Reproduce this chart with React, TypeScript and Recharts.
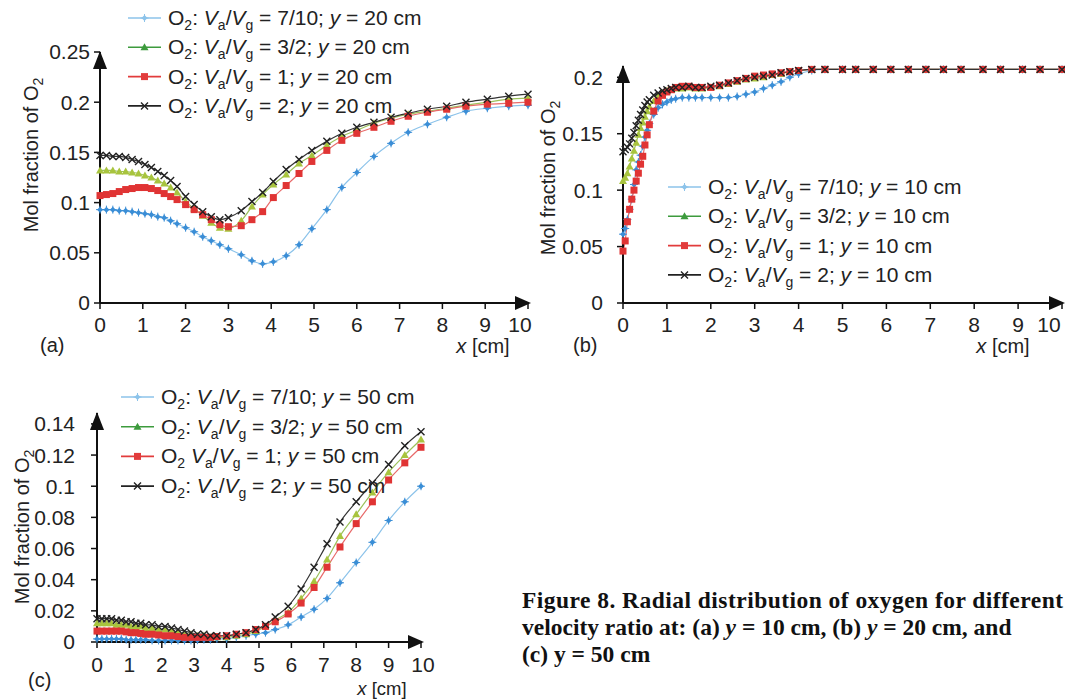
import React from 'react';
import { LineChart, Line, XAxis, YAxis, ReferenceDot } from 'recharts';

const FONT = '"Liberation Sans", Arial, Helvetica, sans-serif';
const SERIF = '"Liberation Serif", "Times New Roman", serif';

// ---------- data ----------
const xTicks = [0, 1, 2, 3, 4, 5, 6, 7, 8, 9, 10];
const yTicksA = [0, 0.05, 0.1, 0.15, 0.2, 0.25];
const yTicksB = [0, 0.05, 0.1, 0.15, 0.2];
const yTicksC = [0, 0.02, 0.04, 0.06, 0.08, 0.1, 0.12, 0.14];

const ratios = ['7/10', '3/2', '1', '2'];

// Panel (a): y = 20 cm
const xA = [0, 0.15, 0.3, 0.45, 0.6, 0.75, 0.9, 1.05, 1.2, 1.35, 1.5, 1.65, 1.8, 2.0, 2.2, 2.4, 2.6, 2.8, 3.0, 3.3, 3.55, 3.8, 4.05, 4.35, 4.65, 4.95, 5.3, 5.65, 6.0, 6.4, 6.8, 7.2, 7.65, 8.1, 8.55, 9.05, 9.55, 10];
const blueA = [0.093, 0.093, 0.093, 0.092, 0.092, 0.091, 0.090, 0.089, 0.088, 0.086, 0.085, 0.082, 0.079, 0.075, 0.071, 0.066, 0.062, 0.058, 0.054, 0.048, 0.042, 0.039, 0.041, 0.047, 0.058, 0.074, 0.093, 0.115, 0.130, 0.146, 0.159, 0.170, 0.178, 0.185, 0.191, 0.194, 0.196, 0.197];
const greenA = [0.132, 0.132, 0.132, 0.131, 0.131, 0.130, 0.129, 0.127, 0.125, 0.122, 0.119, 0.115, 0.110, 0.101, 0.094, 0.087, 0.080, 0.075, 0.074, 0.082, 0.096, 0.108, 0.118, 0.128, 0.139, 0.147, 0.157, 0.166, 0.172, 0.179, 0.184, 0.188, 0.191, 0.194, 0.197, 0.200, 0.203, 0.204];
const redA = [0.107, 0.108, 0.109, 0.111, 0.113, 0.114, 0.115, 0.115, 0.114, 0.112, 0.109, 0.106, 0.103, 0.098, 0.093, 0.088, 0.083, 0.078, 0.076, 0.077, 0.083, 0.091, 0.105, 0.117, 0.129, 0.141, 0.152, 0.162, 0.169, 0.175, 0.181, 0.186, 0.190, 0.193, 0.196, 0.198, 0.199, 0.200];
const blackA = [0.147, 0.147, 0.146, 0.146, 0.145, 0.143, 0.141, 0.138, 0.135, 0.131, 0.127, 0.122, 0.116, 0.106, 0.098, 0.091, 0.086, 0.083, 0.085, 0.092, 0.101, 0.110, 0.121, 0.133, 0.143, 0.152, 0.161, 0.169, 0.175, 0.180, 0.185, 0.189, 0.193, 0.196, 0.200, 0.203, 0.206, 0.208];

// Panel (b): y = 10 cm
const xB = [0, 0.05, 0.1, 0.15, 0.2, 0.25, 0.3, 0.35, 0.4, 0.45, 0.5, 0.55, 0.6, 0.7, 0.8, 0.9, 1.0, 1.1, 1.2, 1.35, 1.5, 1.65, 1.8, 2.0, 2.2, 2.4, 2.6, 2.8, 3.0, 3.2, 3.4, 3.6, 3.8, 4.0, 4.3, 4.6, 5.0, 5.3, 5.7, 6.1, 6.5, 6.9, 7.3, 7.7, 8.2, 8.6, 9.1, 9.5, 10];
const blueB = [0.061, 0.066, 0.074, 0.083, 0.092, 0.105, 0.118, 0.125, 0.131, 0.139, 0.147, 0.153, 0.159, 0.167, 0.173, 0.176, 0.178, 0.180, 0.181, 0.182, 0.182, 0.182, 0.182, 0.182, 0.182, 0.182, 0.183, 0.185, 0.187, 0.190, 0.193, 0.196, 0.200, 0.203, 0.206, 0.207, 0.207, 0.207, 0.207, 0.207, 0.207, 0.207, 0.207, 0.207, 0.207, 0.207, 0.207, 0.207, 0.207];
const greenB = [0.108, 0.111, 0.115, 0.121, 0.128, 0.135, 0.142, 0.149, 0.155, 0.160, 0.165, 0.170, 0.174, 0.179, 0.183, 0.186, 0.188, 0.189, 0.190, 0.190, 0.191, 0.190, 0.190, 0.191, 0.192, 0.194, 0.196, 0.198, 0.199, 0.200, 0.202, 0.203, 0.205, 0.206, 0.207, 0.207, 0.207, 0.207, 0.207, 0.207, 0.207, 0.207, 0.207, 0.207, 0.207, 0.207, 0.207, 0.207, 0.207];
const redB = [0.046, 0.055, 0.072, 0.083, 0.092, 0.100, 0.108, 0.115, 0.123, 0.130, 0.140, 0.149, 0.158, 0.170, 0.179, 0.184, 0.187, 0.189, 0.191, 0.192, 0.192, 0.191, 0.191, 0.191, 0.193, 0.195, 0.197, 0.199, 0.201, 0.202, 0.203, 0.204, 0.205, 0.206, 0.207, 0.207, 0.207, 0.207, 0.207, 0.207, 0.207, 0.207, 0.207, 0.207, 0.207, 0.207, 0.207, 0.207, 0.207];
const blackB = [0.134, 0.136, 0.138, 0.141, 0.146, 0.151, 0.157, 0.162, 0.167, 0.171, 0.175, 0.178, 0.180, 0.184, 0.186, 0.188, 0.189, 0.190, 0.191, 0.191, 0.192, 0.191, 0.191, 0.192, 0.193, 0.195, 0.197, 0.199, 0.200, 0.201, 0.202, 0.204, 0.205, 0.206, 0.207, 0.207, 0.207, 0.207, 0.207, 0.207, 0.207, 0.207, 0.207, 0.207, 0.207, 0.207, 0.207, 0.207, 0.207];

// Panel (c): y = 50 cm
const xC = [0, 0.15, 0.3, 0.45, 0.6, 0.75, 0.9, 1.05, 1.2, 1.35, 1.5, 1.7, 1.9, 2.1, 2.3, 2.5, 2.7, 2.9, 3.1, 3.3, 3.5, 3.7, 4.0, 4.3, 4.6, 4.9, 5.2, 5.5, 5.9, 6.3, 6.7, 7.1, 7.5, 8.0, 8.5, 9.0, 9.5, 10];
const blueC = [0.002, 0.002, 0.002, 0.002, 0.002, 0.002, 0.0015, 0.0015, 0.0015, 0.0015, 0.0015, 0.001, 0.001, 0.001, 0.001, 0.001, 0.001, 0.001, 0.0012, 0.0015, 0.0015, 0.002, 0.002, 0.003, 0.004, 0.005, 0.006, 0.008, 0.011, 0.016, 0.021, 0.028, 0.038, 0.051, 0.064, 0.078, 0.090, 0.100];
const greenC = [0.012, 0.012, 0.012, 0.012, 0.011, 0.011, 0.011, 0.010, 0.010, 0.010, 0.009, 0.009, 0.008, 0.008, 0.007, 0.006, 0.005, 0.005, 0.004, 0.004, 0.003, 0.003, 0.003, 0.004, 0.005, 0.007, 0.010, 0.014, 0.019, 0.028, 0.039, 0.053, 0.068, 0.082, 0.096, 0.109, 0.120, 0.130];
const redC = [0.007, 0.007, 0.007, 0.007, 0.007, 0.007, 0.0065, 0.006, 0.006, 0.0055, 0.005, 0.005, 0.0045, 0.004, 0.004, 0.0035, 0.003, 0.003, 0.003, 0.003, 0.003, 0.0035, 0.004, 0.005, 0.006, 0.008, 0.010, 0.013, 0.018, 0.025, 0.035, 0.048, 0.061, 0.076, 0.090, 0.104, 0.115, 0.125];
const blackC = [0.015, 0.015, 0.015, 0.015, 0.014, 0.014, 0.013, 0.013, 0.012, 0.012, 0.011, 0.011, 0.010, 0.010, 0.009, 0.008, 0.007, 0.006, 0.005, 0.005, 0.004, 0.004, 0.004, 0.005, 0.006, 0.008, 0.011, 0.016, 0.023, 0.034, 0.048, 0.063, 0.077, 0.090, 0.102, 0.114, 0.126, 0.135];

// ---------- styles ----------
type Kind = 'diamond' | 'tri' | 'sq' | 'x';
const STYLES: { kind: Kind; line: string; mark: string; legLine: string; legMark: string }[] = [
  { kind: 'diamond', line: '#8cc3ea', mark: '#3b8ed6', legLine: '#8cc3ea', legMark: '#8cc3ea' },
  { kind: 'tri', line: '#9cc25a', mark: '#a8c43e', legLine: '#3d9b3d', legMark: '#3d9b3d' },
  { kind: 'sq', line: '#e86a6a', mark: '#e03434', legLine: '#e23c3c', legMark: '#e23c3c' },
  { kind: 'x', line: '#333333', mark: '#222222', legLine: '#222222', legMark: '#222222' },
];

const pts = (xs: number[], ys: number[]) => xs.map((x, i) => ({ x, y: ys[i] }));

function Marker({ kind, cx, cy, color }: { kind: Kind; cx: number; cy: number; color: string }) {
  if (cx == null || cy == null || isNaN(cx) || isNaN(cy)) return null;
  switch (kind) {
    case 'diamond':
      return (
        <g>
          <path d={`M${cx - 3},${cy}L${cx},${cy - 3}L${cx + 3},${cy}L${cx},${cy + 3}Z`} fill={color} />
          <path d={`M${cx - 4},${cy}H${cx + 4}M${cx},${cy - 4}V${cy + 4}`} stroke={color} strokeWidth={1} />
        </g>
      );
    case 'tri':
      return <path d={`M${cx},${cy - 4}L${cx + 4},${cy + 3}L${cx - 4},${cy + 3}Z`} fill={color} />;
    case 'sq':
      return <rect x={cx - 3.5} y={cy - 3.5} width={7} height={7} fill={color} />;
    case 'x':
      return (
        <path
          d={`M${cx - 3.5},${cy - 3.5}L${cx + 3.5},${cy + 3.5}M${cx - 3.5},${cy + 3.5}L${cx + 3.5},${cy - 3.5}`}
          stroke={color}
          strokeWidth={1.4}
        />
      );
  }
  return null;
}

type PanelProps = {
  left: number;
  top: number;
  width: number;
  height: number;
  margin: { top: number; right: number; bottom: number; left: number };
  yDomain: [number, number];
  yTicks: number[];
  xTickMargin: number;
  yTickMargin: number;
  lastDx: number;
  xs: number[];
  series: number[][];
  id: string;
};

function Panel(p: PanelProps) {
  const axisLine = { stroke: '#111', strokeWidth: 2 };
  const tickLine = { stroke: '#111', strokeWidth: 1.5 };
  const tick = { fill: '#222', fontSize: 21, fontFamily: FONT };
  const XTick = (t: any) => {
    const v = t.payload?.value;
    const dx = v === 10 ? p.lastDx : 0;
    return (
      <text x={t.x + dx} y={t.y} dy="0.71em" textAnchor="middle" fill="#222" fontSize={21} fontFamily={FONT}>
        {v}
      </text>
    );
  };
  return (
    <div style={{ position: 'absolute', left: p.left, top: p.top }}>
      <LineChart width={p.width} height={p.height} margin={p.margin}>
        <XAxis
          type="number"
          dataKey="x"
          domain={[0, 10]}
          ticks={xTicks}
          interval={0}
          height={30}
          tick={XTick}
          tickSize={6}
          tickMargin={p.xTickMargin}
          axisLine={axisLine}
          tickLine={tickLine}
        />
        <YAxis
          type="number"
          dataKey="y"
          domain={p.yDomain}
          ticks={p.yTicks}
          interval={0}
          width={60}
          tick={tick}
          tickSize={6}
          tickMargin={p.yTickMargin}
          axisLine={axisLine}
          tickLine={tickLine}
        />
        {p.series.map((ys, si) => {
          const st = STYLES[si];
          return (
            <Line
              key={`${p.id}-${si}`}
              data={pts(p.xs, ys)}
              dataKey="y"
              type="monotone"
              stroke={st.line}
              strokeWidth={1.2}
              isAnimationActive={false}
              activeDot={false}
              dot={(d: any) => (
                <Marker key={`${p.id}-${si}-${d.index}`} kind={st.kind} cx={d.cx} cy={d.cy} color={st.mark} />
              )}
            />
          );
        })}
        <ReferenceDot
          x={10}
          y={0}
          r={0}
          ifOverflow="visible"
          shape={(d: any) => (
            <path d={`M${d.cx + 3},${d.cy}L${d.cx - 13},${d.cy - 7}L${d.cx - 13},${d.cy + 7}Z`} fill="#111" />
          )}
        />
        <ReferenceDot
          x={0}
          y={p.yDomain[1]}
          r={0}
          ifOverflow="visible"
          shape={(d: any) => (
            <path d={`M${d.cx},${d.cy - 1}L${d.cx - 7},${d.cy + 17}L${d.cx + 7},${d.cy + 17}Z`} fill="#111" />
          )}
        />
      </LineChart>
    </div>
  );
}

function LegendRow({ x, y, si, ratio, ycm, colon = true }: { x: number; y: number; si: number; ratio: string; ycm: string; colon?: boolean }) {
  const st = STYLES[si];
  const sub = { fontSize: 14 };
  return (
    <g>
      <line x1={x} x2={x + 33} y1={y} y2={y} stroke={st.legLine} strokeWidth={1.6} />
      <Marker kind={st.kind} cx={x + 16.5} cy={y} color={st.legMark} />
      <text x={x + 40} y={y + 7} fontSize={21} fontFamily={FONT} fill="#222" style={{ whiteSpace: 'pre' }}>
        O<tspan dy={5} {...sub}>2</tspan>
        <tspan dy={-5}>{colon ? ': ' : ' '}</tspan>
        <tspan fontStyle="italic">V</tspan>
        <tspan dy={5} {...sub}>a</tspan>
        <tspan dy={-5}>/</tspan>
        <tspan fontStyle="italic">V</tspan>
        <tspan dy={5} {...sub}>g</tspan>
        <tspan dy={-5}>{` = ${ratio}; `}</tspan>
        <tspan fontStyle="italic">y</tspan>
        <tspan>{` = ${ycm} cm`}</tspan>
      </text>
    </g>
  );
}

function YLabel({ x, y }: { x: number; y: number }) {
  return (
    <text x={x} y={y} transform={`rotate(-90 ${x} ${y})`} textAnchor="middle" fontSize={20} fontFamily={FONT} fill="#222" style={{ whiteSpace: 'pre' }}>
      Mol fraction of O<tspan dy={5} fontSize={14}>2</tspan>
    </text>
  );
}

function XLabel({ x, y, size = 20 }: { x: number; y: number; size?: number }) {
  return (
    <text x={x} y={y} textAnchor="middle" fontSize={size} fontFamily={FONT} fill="#222" style={{ whiteSpace: 'pre' }}>
      <tspan fontStyle="italic">x</tspan> [cm]
    </text>
  );
}

export default function App() {
  return (
    <div style={{ position: 'absolute', left: 0, top: 0, width: 1065, height: 699, background: '#fff', overflow: 'hidden' }}>
      <Panel
        id="a"
        left={0}
        top={0}
        width={560}
        height={360}
        margin={{ top: 52, right: 32, bottom: 27, left: 40 }}
        yDomain={[0, 0.25]}
        yTicks={yTicksA}
        xTickMargin={8}
        yTickMargin={4}
        lastDx={-8}
        xs={xA}
        series={[blueA, greenA, redA, blackA]}
      />
      <Panel
        id="b"
        left={540}
        top={0}
        width={525}
        height={360}
        margin={{ top: 66, right: 3, bottom: 27, left: 23 }}
        yDomain={[0, 0.21]}
        yTicks={yTicksB}
        xTickMargin={8}
        yTickMargin={14}
        lastDx={-13}
        xs={xB}
        series={[blueB, greenB, redB, blackB]}
      />
      <Panel
        id="c"
        left={0}
        top={360}
        width={540}
        height={339}
        margin={{ top: 53, right: 119, bottom: 27, left: 37 }}
        yDomain={[0, 0.147]}
        yTicks={yTicksC}
        xTickMargin={9}
        yTickMargin={16}
        lastDx={2}
        xs={xC}
        series={[blueC, greenC, redC, blackC]}
      />
      <svg width={1065} height={699} style={{ position: 'absolute', left: 0, top: 0, pointerEvents: 'none' }}>
        {ratios.map((r, i) => (
          <LegendRow key={`la${i}`} x={128} y={18 + i * 29.3} si={i} ratio={r} ycm="20" />
        ))}
        {ratios.map((r, i) => (
          <LegendRow key={`lb${i}`} x={668} y={187 + i * 29.3} si={i} ratio={r} ycm="10" />
        ))}
        {ratios.map((r, i) => (
          <LegendRow key={`lc${i}`} x={121} y={397 + i * 29.7} si={i} ratio={r} ycm="50" colon={i !== 2} />
        ))}
        <YLabel x={38} y={155} />
        <YLabel x={555} y={178} />
        <YLabel x={29} y={527} />
        <XLabel x={483} y={353} />
        <XLabel x={1003} y={353} />
        <XLabel x={382} y={695} size={18.5} />
        <text x={40} y={352} fontSize={20} fontFamily={FONT} fill="#222">(a)</text>
        <text x={573} y={352} fontSize={20} fontFamily={FONT} fill="#222">(b)</text>
        <text x={28} y={687} fontSize={20} fontFamily={FONT} fill="#222">(c)</text>
        <text x={522} y={608} fontSize={23.5} fontWeight="bold" fontFamily={SERIF} fill="#111" textLength={541} lengthAdjust="spacing">
          Figure 8. Radial distribution of oxygen for different
        </text>
        <text x={522} y={635} fontSize={23.5} fontWeight="bold" fontFamily={SERIF} fill="#111" style={{ whiteSpace: 'pre' }}>
          velocity ratio at: (a) <tspan fontStyle="italic">y</tspan> = 10 cm, (b) <tspan fontStyle="italic">y</tspan> = 20 cm, and
        </text>
        <text x={522} y={662} fontSize={23.5} fontWeight="bold" fontFamily={SERIF} fill="#111">
          (c) y = 50 cm
        </text>
      </svg>
    </div>
  );
}
